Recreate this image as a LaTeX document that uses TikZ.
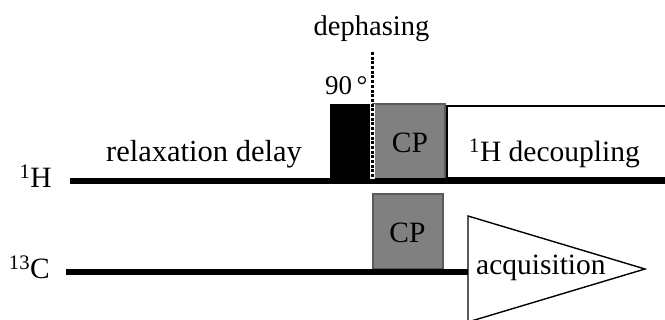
\documentclass[tikz,border=0pt]{standalone}
\usepackage{fontspec}
\setmainfont{Liberation Serif}
\begin{document}
\begin{tikzpicture}[x=1pt,y=-1pt,
  lbl/.style={inner sep=0pt,font=\fontsize{29.5}{34}\selectfont},
  rail/.style={line width=6pt},
  cpbox/.style={fill=cpgray,draw=cpedge,line width=1.2pt},
  thin/.style={draw=black,line width=1.4pt}]
\definecolor{cpgray}{HTML}{808080}
\definecolor{cpedge}{HTML}{5A5A5A}
\useasboundingbox (0,0) rectangle (665,320);
% channel rails
\coordinate (hstart) at (70,181);
\coordinate (hend) at (668,181);
\coordinate (cstart) at (66,272);
\coordinate (cend) at (468,272);
% 1H channel blocks
\fill[black] (330,104) rectangle (371,181);
\draw[cpbox] (373,104) rectangle (445,179);
\draw[thin,fill=white] (447,106) rectangle (680,178);
\draw[rail] (hstart) -- (hend);
% dephasing marker
\draw[white,line width=5pt] (372,104) -- (372,179);
\draw[black,line width=3pt,dash pattern=on 3pt off 1.7pt] (372,52) -- (372,179);
% 13C channel blocks
\draw[cpbox] (373,194) rectangle (443,269);
\draw[rail] (cstart) -- (cend);
\draw[thin,fill=white,line join=miter] (468,216) -- (645,269) -- (468,322) -- cycle;
% labels
\node[lbl,anchor=base,font=\fontsize{28.5}{34}\selectfont] (deph) at (371.5,36) {dephasing};
\node[lbl,anchor=base west,font=\fontsize{27}{32}\selectfont] (ninety) at (325,95) {90\,°};
\node[lbl,anchor=base] (cph) at (410,153) {CP};
\node[lbl,anchor=base west,font=\fontsize{30.5}{34}\selectfont] (relax) at (106,162) {relaxation delay};
\node[lbl,anchor=base west] (dec) at (469,162) {\textsuperscript{1}H decoupling};
\node[lbl,anchor=base east] (hlab) at (52,188) {\textsuperscript{1}H};
\node[lbl,anchor=base east] (clab) at (50,279) {\textsuperscript{13}C};
\node[lbl,anchor=base] (cpc) at (407.5,243) {CP};
\node[lbl,anchor=base west] (acq) at (476,275) {acquisition};
\end{tikzpicture}
\end{document}
